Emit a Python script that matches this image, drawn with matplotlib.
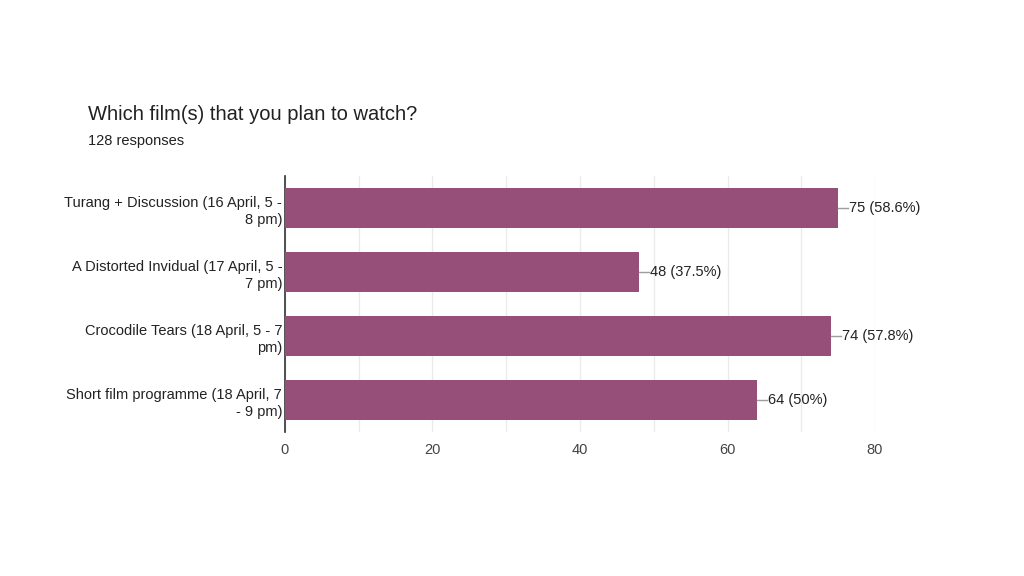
import matplotlib.pyplot as plt

labels = ["Turang + Discussion (16 April, 5 -\n8 pm)",
          "A Distorted Invidual (17 April, 5 -\n7 pm)",
          "Crocodile Tears (18 April, 5 - 7\npm)",
          "Short film programme (18 April, 7\n- 9 pm)"]
counts = [75, 48, 74, 64]
pcts = ["58.6%", "37.5%", "57.8%", "50%"]
xticks = [0, 20, 40, 60, 80]

plt.rcParams['font.family'] = ['Liberation Sans', 'DejaVu Sans']

fig = plt.figure(figsize=(10.24, 5.76), dpi=100)
ax = fig.add_axes([0.2783, 0.25, 0.5762, 0.4444])

ypos = range(len(labels))
ax.barh(ypos, counts, height=0.62, color='#954f78', zorder=3)

for y, c, p in zip(ypos, counts, pcts):
    ax.plot([c, c + 1.4], [y, y], color='#9e9e9e', lw=1, zorder=3)
    ax.text(c + 1.5, y, f"{c} ({p})", va='center', ha='left',
            fontsize=10.5, color='#222222')

ax.set_xlim(0, 80)
ax.set_ylim(3.5, -0.5)
ax.set_xticks(xticks)
ax.set_xticks(range(0, 81, 10), minor=True)
ax.set_yticks(list(ypos))
ax.set_yticklabels(labels, fontsize=10.5, color='#222222', ha='right',
                   linespacing=1.35)
ax.tick_params(axis='x', length=0, labelsize=10.5, labelcolor='#444444', pad=8)
ax.tick_params(axis='x', which='minor', length=0)
ax.tick_params(axis='y', length=0, pad=2)
ax.grid(axis='x', which='both', color='#ebebeb', lw=1, zorder=0)

for s in ['top', 'right', 'bottom']:
    ax.spines[s].set_visible(False)
ax.spines['left'].set_color('#333333')
ax.spines['left'].set_linewidth(1.2)

fig.text(88 / 1024, 1 - 115 / 576, "Which film(s) that you plan to watch?",
         fontsize=14.5, color='#202124', va='center')
fig.text(88 / 1024, 1 - 141 / 576, "128 responses",
         fontsize=10.5, color='#202124', va='center')

fig.savefig('out.png', dpi=100)
